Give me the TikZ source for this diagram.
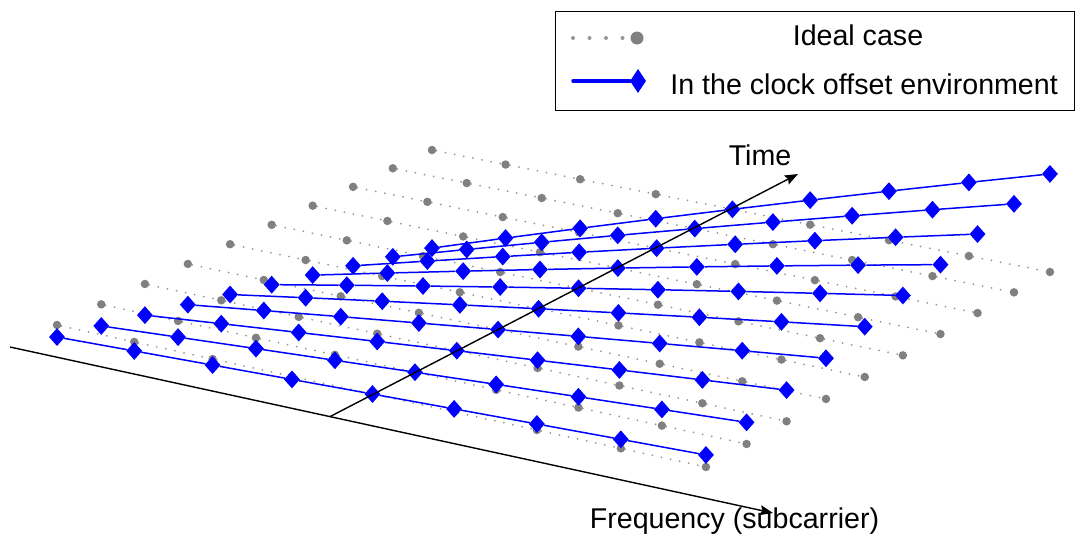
\documentclass[tikz,border=0pt]{standalone}
\usepackage{fontspec}
\setmainfont{Liberation Sans}
\usetikzlibrary{arrows.meta, positioning, shapes.geometric, calc}
\definecolor{idealClr}{RGB}{128,128,128}
\definecolor{idealLn}{RGB}{150,150,150}
\definecolor{offClr}{RGB}{0,0,255}
\newcommand{\lbl}{\fontsize{28.6}{34}\selectfont}

\begin{document}
\begin{tikzpicture}[
  x=1pt, y=-1pt,
  font=\lbl,
  >={Stealth[length=13pt, width=10pt, inset=2pt]},
  ideal/.style={circle, fill=idealClr, inner sep=0pt, minimum size=8.5pt},
  offset/.style={diamond, fill=offClr, inner sep=0pt,
                 minimum width=16pt, minimum height=18pt},
  idealline/.style={draw=idealLn, line width=2pt, line cap=round,
                    dash pattern=on 0pt off 9.3pt},
  offline/.style={draw=offClr, line width=1.5pt},
  axis/.style={->, line width=1.4pt, draw=black},
]
\useasboundingbox (0,0) rectangle (1076,536);

% ---------- grid points (ideal and with clock offset) ----------
\foreach \j in {0,...,9}{
  \foreach \i in {0,...,8}{
    \pgfmathsetmacro\su{(\i/8)*0.946/(1-0.054*\i/8)}
    \pgfmathsetmacro\sv{(\j/9)*1.072/(1+0.072*\j/9)}
    \pgfmathsetmacro\gx{(1-\su)*(1-\sv)*57+\su*(1-\sv)*706+(1-\su)*\sv*432+\su*\sv*1050}
    \pgfmathsetmacro\gy{(1-\su)*(1-\sv)*325+\su*(1-\sv)*467+(1-\su)*\sv*150+\su*\sv*272}
    \pgfmathsetmacro\by{\gy-2.39*(\i-4)*(\j+1.26)}
    \coordinate (gp-\i-\j) at (\gx,\gy);
    \coordinate (bp-\i-\j) at (\gx,\by);
  }
}

% ---------- ideal case ----------
\foreach \j in {0,...,9}{
  \foreach \i in {0,...,8}
    \node[ideal] (g-\i-\j) at (gp-\i-\j) {};
  \foreach \i [count=\k from 1] in {0,...,7}
    \draw[idealline] (g-\i-\j) -- (g-\k-\j);
}

% ---------- clock offset environment ----------
\foreach \j in {0,...,9}{
  \foreach \i in {0,...,8}
    \node[offset] (b-\i-\j) at (bp-\i-\j) {};
  \foreach \i [count=\k from 1] in {0,...,7}
    \draw[offline] (b-\i-\j) -- (b-\k-\j);
}

% ---------- axes ----------
\coordinate (f0) at (10,347);
\coordinate (f1) at (773,513);
\coordinate (t0) at ($(f0)!0.4194!(f1)$);
\coordinate (t1) at (798,174);
\draw[axis] (f0) -- (f1);
\draw[axis] (t0) -- (t1);
\node[anchor=base] (tlabel) at (760,165) {Time};
\node[anchor=base] (flabel) at (734.5,528) {Frequency (subcarrier)};

% ---------- legend ----------
\node[draw, line width=1pt, inner sep=0pt, anchor=north west,
      minimum width=519pt, minimum height=99pt] (legend) at (555,11) {};
\coordinate (legdot0) at (573,38);
\node[ideal, minimum size=13pt] (legdot) at (637,38) {};
\draw[idealline, line width=4pt, dash pattern=on 0pt off 16.5pt] (legdot0) -- (legdot);
\node[anchor=base] (legideal) at (858,45) {Ideal case};
\coordinate (legln0) at (573,81);
\node[offset, minimum height=24pt] (legdia) at (638,81) {};
\draw[offline, line width=3.5pt, line cap=round] (legln0) -- (legdia);
\node[right=24pt of legdia, inner sep=0pt, yshift=-3pt] (legoffset)
  {In the clock offset environment};

\end{tikzpicture}
\end{document}
